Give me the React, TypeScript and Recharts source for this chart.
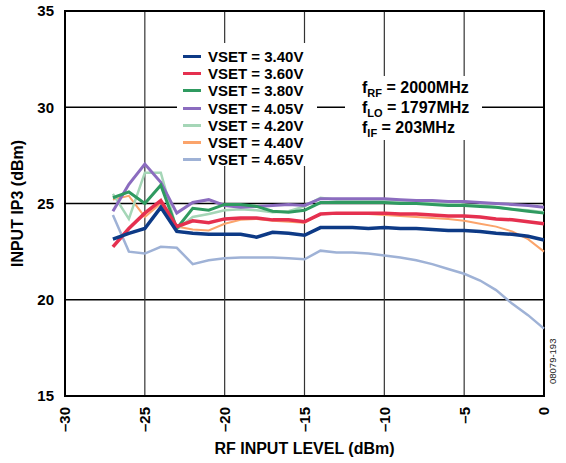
import { LineChart, Line, XAxis, YAxis, CartesianGrid, ReferenceArea } from 'recharts';

const inputLevels = [-27, -26, -25, -24, -23, -22, -21, -20, -19, -18, -17, -16, -15, -14, -13, -12, -11, -10, -9, -8, -7, -6, -5, -4, -3, -2, -1, 0];

const vset340 = [23.15, 23.45, 23.7, 24.8, 23.55, 23.45, 23.4, 23.4, 23.4, 23.25, 23.5, 23.45, 23.35, 23.75, 23.75, 23.75, 23.7, 23.75, 23.7, 23.7, 23.65, 23.6, 23.6, 23.55, 23.45, 23.4, 23.3, 23.1];
const vset360 = [22.75, 23.7, 24.5, 25.15, 23.8, 24.1, 24.0, 24.2, 24.25, 24.25, 24.15, 24.15, 24.05, 24.45, 24.5, 24.5, 24.5, 24.5, 24.45, 24.45, 24.4, 24.35, 24.35, 24.3, 24.2, 24.15, 24.05, 23.95];
const vset380 = [25.3, 25.6, 25.0, 25.95, 23.7, 24.75, 24.65, 24.95, 24.95, 24.85, 24.6, 24.55, 24.65, 25.05, 25.05, 25.05, 25.05, 25.05, 25.0, 25.0, 24.95, 24.9, 24.9, 24.85, 24.8, 24.7, 24.6, 24.5];
const vset405 = [24.6, 26.0, 27.05, 26.1, 24.5, 25.05, 25.2, 24.9, 24.8, 24.85, 24.9, 24.95, 24.9, 25.25, 25.25, 25.25, 25.25, 25.25, 25.2, 25.15, 25.15, 25.1, 25.1, 25.05, 25.0, 24.95, 24.9, 24.8];
const vset420 = [25.5, 24.2, 26.6, 26.6, 23.65, 24.3, 24.45, 24.65, 24.7, 24.65, 24.55, 24.6, 24.85, 25.3, 25.2, 25.2, 25.15, 25.15, 25.1, 25.05, 25.0, 25.0, 24.95, 24.9, 24.8, 24.7, 24.65, 24.55];
const vset440 = [25.2, 25.4, 24.3, 25.0, 23.8, 23.65, 23.6, 23.95, 24.15, 24.2, 24.1, 24.05, 24.0, 24.45, 24.45, 24.45, 24.45, 24.4, 24.35, 24.3, 24.25, 24.2, 24.1, 23.95, 23.8, 23.55, 23.15, 22.5];
const vset465 = [24.4, 22.5, 22.4, 22.75, 22.7, 21.85, 22.05, 22.15, 22.2, 22.2, 22.2, 22.15, 22.1, 22.55, 22.45, 22.45, 22.4, 22.3, 22.2, 22.05, 21.85, 21.6, 21.35, 21.0, 20.5, 19.8, 19.2, 18.5];

const xTicks = [-30, -25, -20, -15, -10, -5, 0];
const yTicks = [15, 20, 25, 30, 35];

const series = [
  { key: 'v340', label: 'VSET = 3.40V', values: vset340, color: '#0d3a86', width: 3.5 },
  { key: 'v360', label: 'VSET = 3.60V', values: vset360, color: '#e5304f', width: 3.5 },
  { key: 'v380', label: 'VSET = 3.80V', values: vset380, color: '#2f9a60', width: 3 },
  { key: 'v405', label: 'VSET = 4.05V', values: vset405, color: '#8b6cbf', width: 3 },
  { key: 'v420', label: 'VSET = 4.20V', values: vset420, color: '#a5d6b7', width: 2.5 },
  { key: 'v440', label: 'VSET = 4.40V', values: vset440, color: '#fba46b', width: 2 },
  { key: 'v465', label: 'VSET = 4.65V', values: vset465, color: '#9fb2d6', width: 2.5 },
];

const data = inputLevels.map((x, i) => {
  const row: Record<string, number> = { x };
  series.forEach((s) => { row[s.key] = s.values[i]; });
  return row;
});

const FONT = 'Arial, "Liberation Sans", Helvetica, sans-serif';

const fmt = (v: number) => (v < 0 ? '\u2013' + Math.abs(v) : String(v));

const XTick = ({ x, y, payload }: any) => {
  const ty = y + 11;
  return (
    <text x={x} y={ty} transform={`rotate(-90, ${x}, ${ty})`} textAnchor="end" dy="0.36em"
      fontFamily={FONT} fontWeight="bold" fontSize={15} fill="#000">
      {fmt(payload.value)}
    </text>
  );
};

const YTick = ({ x, y, payload }: any) => (
  <text x={x} y={y} textAnchor="end" dy="0.36em" fontFamily={FONT} fontWeight="bold" fontSize={15} fill="#000">
    {payload.value}
  </text>
);

const App = () => {
  return (
    <div style={{ position: 'absolute', left: 0, top: 0, width: 566, height: 463, background: '#fff', fontFamily: FONT }}>
      <LineChart width={566} height={463} data={data} margin={{ top: 11, right: 22, bottom: 0, left: 0 }}>
        <CartesianGrid horizontal={true} vertical={false} stroke="#000" strokeWidth={1.5} />
        <CartesianGrid horizontal={false} vertical={true} stroke="#333" strokeWidth={1.2} />
        <XAxis type="number" dataKey="x" domain={[-30, 0]} ticks={xTicks} height={67}
          tickLine={false} tickSize={0} tickMargin={0} axisLine={{ stroke: '#000', strokeWidth: 2 }}
          tick={<XTick />} interval={0}
          label={{
            content: ({ viewBox }: any) => (
              <text x={viewBox.x + viewBox.width / 2} y={viewBox.y + 58} textAnchor="middle"
                fontFamily={FONT} fontWeight="bold" fontSize={16} fill="#000">RF INPUT LEVEL (dBm)</text>
            ),
          }} />
        <YAxis type="number" domain={[15, 35]} ticks={yTicks} width={65}
          tickLine={false} tickSize={0} tickMargin={11} axisLine={{ stroke: '#000', strokeWidth: 2 }}
          tick={<YTick />} interval={0}
          label={{
            content: ({ viewBox }: any) => {
              const cx = 17;
              const cy = viewBox.y + viewBox.height / 2;
              return (
                <text x={cx} y={cy} transform={`rotate(-90, ${cx}, ${cy})`} textAnchor="middle" dy="0.36em"
                  fontFamily={FONT} fontWeight="bold" fontSize={16} fill="#000">INPUT IP3 (dBm)</text>
              );
            },
          }} />
        <ReferenceArea x1={-30} x2={0} y1={15} y2={35} fill="none" stroke="#000" strokeWidth={2} />
        {[...series].reverse().map((s) => (
          <Line key={s.key} type="linear" dataKey={s.key} stroke={s.color} strokeWidth={s.width}
            dot={false} isAnimationActive={false} />
        ))}
      </LineChart>

      <div style={{ position: 'absolute', left: 177, top: 43, width: 140, height: 123, background: '#fff',
        boxSizing: 'border-box', paddingTop: 5, paddingLeft: 6 }}>
        {series.map((s) => (
          <div key={s.key} style={{ display: 'flex', alignItems: 'center', height: 17.2, fontSize: 15, fontWeight: 'bold', whiteSpace: 'nowrap' }}>
            <span style={{ display: 'inline-block', width: 18, height: 3, background: s.color, marginRight: 7 }} />
            <span>{s.label}</span>
          </div>
        ))}
      </div>

      <div style={{ position: 'absolute', left: 345, top: 76, width: 137, height: 64, background: '#fff',
        boxSizing: 'border-box', paddingTop: 2, paddingLeft: 17, fontSize: 16, fontWeight: 'bold', lineHeight: '20px', whiteSpace: 'nowrap' }}>
        <div>f<sub style={{ fontSize: 11, verticalAlign: '-4px', lineHeight: 0 }}>RF</sub> = 2000MHz</div>
        <div>f<sub style={{ fontSize: 11, verticalAlign: '-4px', lineHeight: 0 }}>LO</sub> = 1797MHz</div>
        <div>f<sub style={{ fontSize: 11, verticalAlign: '-4px', lineHeight: 0 }}>IF</sub> = 203MHz</div>
      </div>

      <div style={{ position: 'absolute', left: 547, top: 342, height: 42, width: 12, writingMode: 'vertical-rl',
        transform: 'rotate(180deg)', fontSize: 9.5, color: '#222', whiteSpace: 'nowrap', textAlign: 'center' }}>
        08079-193
      </div>
    </div>
  );
};

export default App;
